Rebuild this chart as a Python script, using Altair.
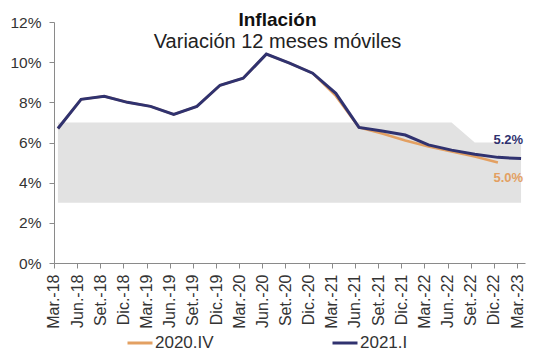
import altair as alt
import pandas as pd

periods = ["Mar.-18", "Jun.-18", "Set.-18", "Dic.-18", "Mar.-19", "Jun.-19", "Set.-19",
           "Dic.-19", "Mar.-20", "Jun.-20", "Set.-20", "Dic.-20", "Mar.-21", "Jun.-21",
           "Set.-21", "Dic.-21", "Mar.-22", "Jun.-22", "Set.-22", "Dic.-22", "Mar.-23"]

serie_2021I = [6.7, 8.15, 8.3, 8.0, 7.8, 7.4, 7.8, 8.85, 9.2, 10.4, 9.95, 9.45, 8.45, 6.75,
               6.57, 6.37, 5.88, 5.62, 5.42, 5.26, 5.2]
serie_2020IV = [6.7, 8.15, 8.3, 8.0, 7.8, 7.4, 7.8, 8.85, 9.2, 10.4, 9.95, 9.45, 8.32, 6.75,
                6.45, 6.1, 5.8, 5.55, 5.3, 5.0]

band_low = [3.0] * 21
band_high = [7.0] * 18 + [6.0, 6.0, 6.0]

series_names = ["2020.IV", "2021.I"]
series_colors = ["#e3a062", "#30326f"]

end_labels = ["5.0%", "5.2%"]
end_values = [5.0, 5.2]

idx = list(range(len(periods)))
label_expr = "[" + ",".join("'" + p + "'" for p in periods) + "][datum.value]"

band_df = pd.DataFrame({"i": idx, "lo": band_low, "hi": band_high})
line_df = pd.DataFrame(
    {"i": idx[:len(serie_2020IV)], "v": serie_2020IV, "serie": "2020.IV"})
line_df2 = pd.DataFrame({"i": idx, "v": serie_2021I, "serie": "2021.I"})

FONT = "Liberation Sans"

x_scale = alt.Scale(domain=[-0.17, 20.17], nice=False, zero=False)
y_scale = alt.Scale(domain=[0, 12], nice=False)

x_axis = alt.Axis(values=idx, labelExpr=label_expr, labelAngle=-90,
                  labelAlign="right", labelBaseline="middle",
                  labelFontSize=16, labelColor="#333333", labelFont=FONT,
                  labelPadding=6, tickSize=5, tickOffset=-4,
                  domainColor="#8a8a8a", tickColor="#8a8a8a", grid=False,
                  labelOverlap=False, labelFlush=False, labelBound=False)
y_axis = alt.Axis(values=[0, 2, 4, 6, 8, 10, 12],
                  labelExpr="datum.value + '%'", labelFontSize=15.5,
                  labelColor="#333333", labelFont=FONT, labelPadding=8,
                  tickSize=5, domainColor="#8a8a8a", tickColor="#8a8a8a",
                  grid=False)


def xe():
    return alt.X("i:Q", scale=x_scale, title=None, axis=x_axis)


def ye(field="v"):
    return alt.Y(field + ":Q", scale=y_scale, title=None, axis=y_axis)


color_scale = alt.Scale(domain=series_names, range=series_colors)
legend = alt.Legend(title=None, orient="none", direction="horizontal",
                    legendX=72, legendY=307, symbolType="stroke", symbolSize=625,
                    symbolStrokeWidth=3, labelFontSize=17, labelFont=FONT,
                    labelColor="#333333", labelOffset=1, columnPadding=112,
                    symbolOffset=0, padding=0)

band = alt.Chart(band_df).mark_area(color="#e2e2e2", opacity=1).encode(
    x=xe(), y=ye("lo"), y2="hi:Q")

line_o = alt.Chart(line_df).mark_line(strokeWidth=2.5).encode(
    x=xe(), y=ye(),
    color=alt.Color("serie:N", scale=color_scale, legend=legend))
line_n = alt.Chart(line_df2).mark_line(strokeWidth=3).encode(
    x=xe(), y=ye(),
    color=alt.Color("serie:N", scale=color_scale, legend=legend))

lab_df_n = pd.DataFrame({"i": [idx[-1]], "v": [end_values[1]], "t": [end_labels[1]]})
lab_df_o = pd.DataFrame({"i": [idx[-1]], "v": [end_values[0]], "t": [end_labels[0]]})

lab_n = alt.Chart(lab_df_n).mark_text(align="right", dx=2, dy=-19, fontSize=13,
                                      fontWeight="bold", font=FONT,
                                      color=series_colors[1]).encode(
    x=xe(), y=ye(), text="t:N")
lab_o = alt.Chart(lab_df_o).mark_text(align="right", dx=2, dy=15, fontSize=13,
                                      fontWeight="bold", font=FONT,
                                      color=series_colors[0]).encode(
    x=xe(), y=ye(), text="t:N")

chart = alt.layer(band, line_o, line_n, lab_n, lab_o).properties(
    width=471, height=241,
    autosize=alt.AutoSizeParams(type="none"),
    padding={"left": 46, "top": 14, "right": 4, "bottom": 90},
    title=alt.TitleParams(text="Inflación", subtitle="Variación 12 meses móviles",
                          anchor="middle", frame="group", orient="top", offset=-37,
                          dx=-12, font=FONT, fontSize=19, fontWeight="bold",
                          color="#111111", subtitleFont=FONT, subtitleFontSize=20,
                          subtitleColor="#222222", subtitlePadding=2),
).configure_view(stroke=None)

chart.save("out.html", embed_options={"renderer": "svg", "actions": False})
